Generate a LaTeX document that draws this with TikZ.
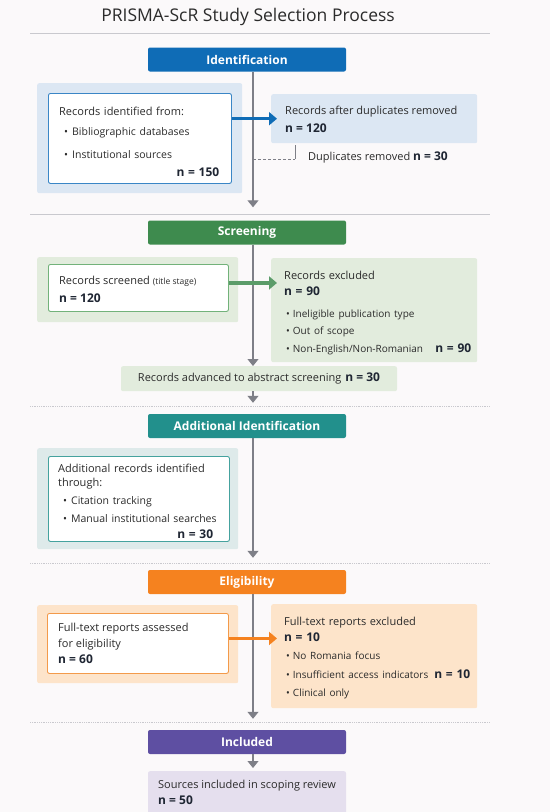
\documentclass[tikz,border=0pt]{standalone}
\usepackage{fontspec}
\setmainfont{Open Sans}
\usetikzlibrary{positioning}
\usetikzlibrary{arrows.meta}
\definecolor{pagebg}{HTML}{FBF9FA}
\definecolor{rulegray}{HTML}{C9C9CE}
\definecolor{flowgray}{HTML}{7E7F87}
\definecolor{ink}{HTML}{2B2B2B}
\definecolor{nink}{HTML}{1F2633}
\definecolor{idblue}{HTML}{0F6CB6}
\definecolor{idlight}{HTML}{DCE7F3}
\definecolor{idline}{HTML}{3A86C6}
\definecolor{scgreen}{HTML}{3E8B4E}
\definecolor{sclight}{HTML}{E2ECDD}
\definecolor{scline}{HTML}{72B27A}
\definecolor{adteal}{HTML}{22908C}
\definecolor{adlight}{HTML}{DEEAEA}
\definecolor{adline}{HTML}{45A29E}
\definecolor{elorange}{HTML}{F5821F}
\definecolor{ellight}{HTML}{FDE4CA}
\definecolor{elline}{HTML}{F39A4A}
\definecolor{inpurple}{HTML}{5E4FA2}
\definecolor{inlight}{HTML}{E5DFEE}
\newcommand{\bul}[1]{\mbox{\fontsize{10.5}{18}\selectfont\textbullet\hspace{4pt}#1}}
\newcommand{\sbul}[1]{\mbox{\fontsize{10}{18}\selectfont\textbullet\hspace{3pt}#1}}
\newcommand{\nval}[1]{\mbox{\fontsize{12}{18}\selectfont\color{nink}\textbf{#1}}}
\tikzset{x=1pt, y=-1pt,
phase/.style={ % coloured stage banner
rounded corners=2pt,
minimum width=198pt,
minimum height=24pt,
text=white,
font=\bfseries\fontsize{12}{14}\selectfont},
panel/.style={ % light panel or box, no text
rounded corners=2pt,
anchor=north west,
inner sep=0pt},
inbox/.style={ % white box with coloured frame
panel,
draw, fill=white,
line width=0.9pt},
txt/.style={ % text block inside a box
anchor=north west,
align=left,
inner sep=0pt,
text=ink,
font=\fontsize{11}{18}\selectfont},
flow/.style={ % main downward connector
draw=flowgray,
line width=1.1pt,
-{Triangle[width=11pt,length=7pt]}},
side/.style={ % thick arrow to the right
line width=3.2pt,
shorten >=-6pt,
-{Triangle[width=13pt,length=8pt]}},
sep/.style={draw=rulegray, line width=0.8pt}}

\begin{document}
\begin{tikzpicture}
\fill[pagebg] (0,0) rectangle (550,812);
\useasboundingbox (0,0) rectangle (550,812);
\coordinate (spine) at (253,0);

% title and separators
\node[text=ink, font=\fontsize{17.5}{21}\selectfont] (title) at (248,17) {PRISMA-ScR Study Selection Process};
\draw[sep] (30,33) -- (490,33);
\draw[sep] (30,214) -- (490,214);
\draw[sep, densely dotted] (30,406) -- (490,406);
\draw[sep, densely dotted] (30,563) -- (490,563);
\draw[sep, densely dotted] (30,722) -- (490,722);

% stage banners
\node[phase, fill=idblue] (idhead) at (247,59.5) {Identification};
\node[phase, fill=scgreen] (schead) at (247,232.5) {Screening};
\node[phase, fill=adteal] (adhead) at (247,426) {Additional Identification};
\node[phase, fill=elorange] (elhead) at (247,582) {Eligibility};
\node[phase, fill=inpurple] (inhead) at (247,742) {Included};

% identification
\node[panel, fill=idlight, minimum width=205pt, minimum height=110pt] (idout) at (37,83) {};
\node[inbox, draw=idline, minimum width=183pt, minimum height=90pt] (idin) at (48,93) {};
\node[txt, text width=160pt] (idtxt) at (59,106.5)
{Records identified from:\\[2pt]
\hspace*{5pt}\bul{Bibliographic databases}\\[5pt]
\hspace*{5pt}\bul{Institutional sources}\\[0pt]
\hfill\nval{n = 150}};
\node[panel, fill=idlight, minimum width=206pt, minimum height=49pt] (idright) at (271,94) {};
\node[txt] (idrtxt) at (285,106)
{Records after duplicates removed\\
\nval{n = 120}};
\node[txt, anchor=west, font=\fontsize{11}{14}\selectfont] (dup) at (308,157.5) {Duplicates removed \nval{n = 30}};
\coordinate (dupc) at (295,159);

% screening
\node[panel, fill=sclight, minimum width=201pt, minimum height=65pt] (scout) at (37,257) {};
\node[inbox, draw=scline, minimum width=180pt, minimum height=47pt] (scin) at (48,264) {};
\node[txt] (sctxt) at (59,276)
{Records screened {\fontsize{8.5}{10}\selectfont(title stage)}\\
\nval{n = 120}};
\node[panel, fill=sclight, minimum width=206pt, minimum height=104pt] (scright) at (271,258) {};
\node[txt, text width=187pt] (scrtxt) at (284,270.5)
{Records excluded\\[-2pt]
\nval{n = 90}\\[4pt]
\hspace*{2pt}\sbul{Ineligible publication type}\\[-1pt]
\hspace*{2pt}\sbul{Out of scope}\\[0pt]
\hspace*{2pt}\sbul{Non-English/Non-Romanian}\hfill\nval{n = 90}};
\node[panel, fill=sclight, minimum width=276pt, minimum height=25pt, anchor=north, text=ink,
  font=\fontsize{11}{14}\selectfont] (adv) at (259,366)
{Records advanced to abstract screening\hspace{4pt}\nval{n = 30}};

% additional identification
\node[panel, fill=adlight, minimum width=201pt, minimum height=101pt] (adout) at (37,448) {};
\node[inbox, draw=adline, minimum width=181pt, minimum height=85pt] (adin) at (48,456) {};
\node[txt, text width=155pt] (adtxt) at (58,464)
{Additional records identified\\[-4pt]
through:\\
\hspace*{5pt}\bul{Citation tracking}\\
\hspace*{5pt}\bul{Manual institutional searches}\\[-2pt]
\hfill\nval{n = 30}};

% eligibility
\node[panel, fill=ellight, minimum width=201pt, minimum height=78pt] (elout) at (37,605) {};
\node[inbox, draw=elline, minimum width=181pt, minimum height=60pt] (elin) at (47,613) {};
\node[txt] (eltxt) at (58,622.5)
{Full-text reports assessed\\[-2pt]
for eligibility\\[-2pt]
\nval{n = 60}};
\node[panel, fill=ellight, minimum width=206pt, minimum height=104pt] (elright) at (271,604) {};
\node[txt, text width=186pt] (elrtxt) at (284,617)
{Full-text reports excluded\\[-2pt]
\nval{n = 10}\\
\hspace*{2pt}\sbul{No Romania focus}\\[1pt]
\hspace*{2pt}\sbul{Insufficient access indicators}\hfill\nval{n = 10}\\
\hspace*{2pt}\sbul{Clinical only}};

% included
\node[panel, fill=inlight, minimum width=198pt, minimum height=48pt, anchor=north] (final) at (247,771) {};
\node[txt] (fintxt) at (158,779.5)
{Sources included in scoping review\\[-2pt]
\nval{n = 50}};

% main flow
\draw[flow, shorten >=13pt] (idhead.south -| spine) -- (schead.north -| spine);
\draw[flow] (schead.south -| spine) -- (adv.north -| spine);
\draw[flow, shorten >=11pt] (adv.south -| spine) -- (adhead.north -| spine);
\draw[flow, shorten >=12pt] (adhead.south -| spine) -- (elhead.north -| spine);
\draw[flow, shorten >=11pt] (elhead.south -| spine) -- (inhead.north -| spine);
\draw[flow, shorten >=3pt] (inhead.south -| spine) -- (final.north -| spine);

% side arrows
\draw[side, idblue] (idin.east |- idright.west) -- (idright.west);
\draw[side, scgreen!85] ([yshift=5pt]scin.east) -- ([yshift=5pt]scin.east -| scright.west);
\draw[side, elorange] ([yshift=5pt]elin.east) -- ([yshift=5pt]elin.east -| elright.west);

% duplicates bracket
\draw[flowgray, densely dashed, line width=0.6pt] (spine |- dupc) -- (dupc);
\draw[flowgray, line width=0.6pt] (dupc) -- ([yshift=-2pt]idright.south -| dupc);
\end{tikzpicture}
\end{document}
